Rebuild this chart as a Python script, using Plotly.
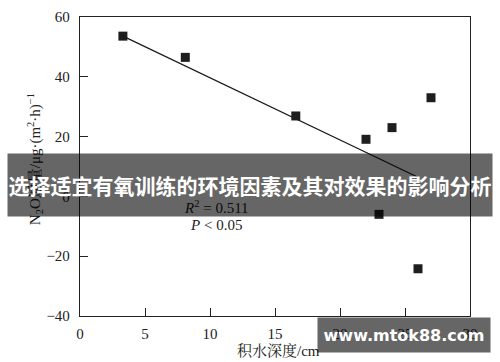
import plotly.graph_objects as go

# Data
depth_cm = [3.3, 8.1, 16.6, 22.0, 24.0, 27.0, 23.0, 26.0]
n2o_flux = [53.6, 46.5, 26.9, 19.1, 23.0, 33.0, -6.0, -24.2]
fit_x = [3.3, 26.0]
fit_y = [53.6, 6.4]
x_ticks = [0, 5, 10, 15, 20, 25, 30]
y_ticks = [-40, -20, 0, 20, 40, 60]

SERIF = "Liberation Serif, Times New Roman, Noto Serif CJK SC, Noto Sans CJK SC, serif"
CJK_BOLD = "Noto Sans CJK SC, sans-serif"

fig = go.Figure()
fig.add_trace(go.Scatter(x=fit_x, y=fit_y, mode="lines",
                         line=dict(color="#1a1a1a", width=1.2), hoverinfo="skip"))
fig.add_trace(go.Scatter(x=depth_cm, y=n2o_flux, mode="markers",
                         marker=dict(symbol="square", size=9, color="#1e1e1e")))

axis_common = dict(showgrid=False, zeroline=False, showline=True, linecolor="#222",
                   linewidth=1.3, mirror=True, ticks="inside", ticklen=8, tickwidth=1.3,
                   tickcolor="#222", tickfont=dict(family=SERIF, size=15, color="#222"))
fig.update_xaxes(range=[0, 30], tickvals=x_ticks, ticklabelstandoff=4, **axis_common)
fig.update_yaxes(range=[-40, 60], tickvals=y_ticks, ticklabelstandoff=6, **axis_common)

annotations = [
    dict(text="<i>R</i><sup>2</sup> = 0.511", x=7.85, y=-3.7, xref="x", yref="y",
         xanchor="left", yanchor="middle", showarrow=False,
         font=dict(family=SERIF, size=15, color="#222")),
    dict(text="<i>P</i> &lt; 0.05", x=8.3, y=-9.6, xref="x", yref="y",
         xanchor="left", yanchor="middle", showarrow=False,
         font=dict(family=SERIF, size=15, color="#222")),
    dict(text="积水深度/cm", x=0.508, y=-0.117, xref="paper", yref="paper",
         xanchor="center", yanchor="middle", showarrow=False,
         font=dict(family=SERIF, size=15, color="#222")),
    dict(text="N<sub>2</sub>O通量/μg·(m<sup>2</sup>·h)<sup>−1</sup>", x=-0.1154, y=0.5244,
         xref="paper", yref="paper", xanchor="center", yanchor="middle", textangle=-90,
         showarrow=False, font=dict(family=SERIF, size=15, color="#222")),
    # overlay banner
    dict(text="<b>选择适宜有氧训练的环境因素及其对效果的影响分析</b>", x=0.4359, y=0.4397,
         xref="paper", yref="paper", xanchor="center", yanchor="middle",
         width=484, height=62, borderpad=0, bgcolor="rgba(0,0,0,0.6)", showarrow=False,
         font=dict(family=CJK_BOLD, size=21, color="white")),
    # watermark
    dict(text="<b>www.mtok88.com</b>", x=0.8308, y=-0.0651, xref="paper", yref="paper",
         xanchor="center", yanchor="middle", width=172, height=34, borderpad=0,
         bgcolor="rgba(0,0,0,0.6)", showarrow=False,
         font=dict(family="DejaVu Sans, sans-serif", size=16, color="white")),
]

fig.update_layout(width=500, height=362, margin=dict(l=80, r=30, t=9, b=46),
                  paper_bgcolor="white", plot_bgcolor="white", showlegend=False,
                  annotations=annotations)

fig.write_html("out.html")
